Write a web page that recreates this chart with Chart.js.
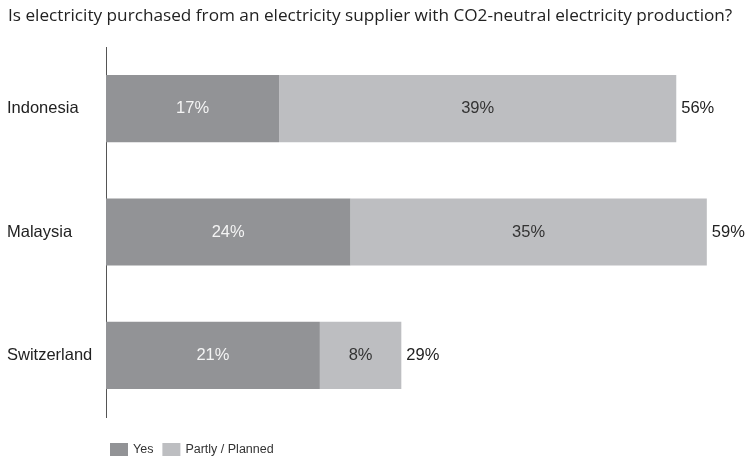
<!DOCTYPE html>
<html lang="en">
<head>
    <meta charset="UTF-8">
    <title>CO2-neutral electricity</title>
    <script src="https://cdn.jsdelivr.net/npm/chart.js"></script>
    <style>
        html, body { margin: 0; padding: 0; background: #fff; }
        .chart-box { width: 745px; height: 463px; }
    </style>
</head>
<body>

<div class="chart-box">
    <canvas id="graficoCO2"></canvas>
</div>

<script>
// datos del grafico
const paises = ['Indonesia', 'Malaysia', 'Switzerland'];
const valoresSi = [17, 24, 21];
const valoresParcial = [39, 35, 8];
const nombresSeries = ['Yes', 'Partly / Planned'];
const titulo = 'Is electricity purchased from an electricity supplier with CO2-neutral electricity production?';

const colorSi = '#929396';
const colorParcial = '#bdbec1';
const fuenteArial = "'Liberation Sans', Arial, sans-serif";

// titulo, etiquetas de valor y leyenda dibujados a mano
const extras = {
    id: 'extras',
    afterDatasetsDraw(chart) {
        const ctx = chart.ctx;
        const x = chart.scales.x;
        const area = chart.chartArea;
        ctx.save();

        // etiquetas dentro de las barras
        ctx.font = '16.5px ' + fuenteArial;
        ctx.textBaseline = 'middle';
        chart.data.datasets.forEach((ds, i) => {
            const meta = chart.getDatasetMeta(i);
            meta.data.forEach((bar, j) => {
                ctx.textAlign = 'center';
                ctx.fillStyle = i === 0 ? '#f4f4f4' : '#333333';
                ctx.fillText(ds.data[j] + '%', (bar.base + bar.x) / 2, bar.y);
            });
        });

        // totales al final de cada barra
        const metaUltima = chart.getDatasetMeta(1);
        paises.forEach((p, j) => {
            const total = valoresSi[j] + valoresParcial[j];
            ctx.textAlign = 'left';
            ctx.fillStyle = '#222222';
            ctx.fillText(total + '%', x.getPixelForValue(total) + 5, metaUltima.data[j].y);
        });

        // titulo
        ctx.font = "17.2px 'Open Sans', sans-serif";
        ctx.fillStyle = '#222222';
        ctx.fillText(titulo, 8, 16);

        // leyenda
        ctx.font = '12.5px ' + fuenteArial;
        let lx = area.left + 4;
        const ly = 450;
        [colorSi, colorParcial].forEach((c, i) => {
            ctx.fillStyle = c;
            ctx.fillRect(lx, ly - 7, 18, 13);
            ctx.fillStyle = '#333333';
            ctx.fillText(nombresSeries[i], lx + 23, ly);
            lx += 23 + ctx.measureText(nombresSeries[i]).width + 9;
        });

        ctx.restore();
    }
};

const ctx = document.getElementById('graficoCO2').getContext('2d');
const chart = new Chart(ctx, {
    type: 'bar',
    data: {
        labels: paises,
        datasets: [
            {
                label: nombresSeries[0],
                data: valoresSi,
                backgroundColor: colorSi,
                borderWidth: 0
            },
            {
                label: nombresSeries[1],
                data: valoresParcial,
                backgroundColor: colorParcial,
                borderWidth: 0
            }
        ]
    },
    options: {
        indexAxis: 'y',
        responsive: true,
        maintainAspectRatio: false,
        animation: false,
        layout: {
            padding: { top: 47, left: 7, right: 28, bottom: 46 }
        },
        datasets: {
            bar: { categoryPercentage: 1, barPercentage: 0.545 }
        },
        scales: {
            x: {
                stacked: true,
                display: false,
                min: 0,
                max: 60
            },
            y: {
                stacked: true,
                grid: { display: false },
                border: { display: true, color: '#555555', width: 1 },
                ticks: {
                    crossAlign: 'far',
                    color: '#222222',
                    font: { family: fuenteArial, size: 16.5 }
                },
                afterFit: function(scale) { scale.width = 99; }
            }
        },
        plugins: {
            legend: { display: false },
            tooltip: { enabled: false }
        }
    },
    plugins: [extras]
});
</script>

</body>
</html>
